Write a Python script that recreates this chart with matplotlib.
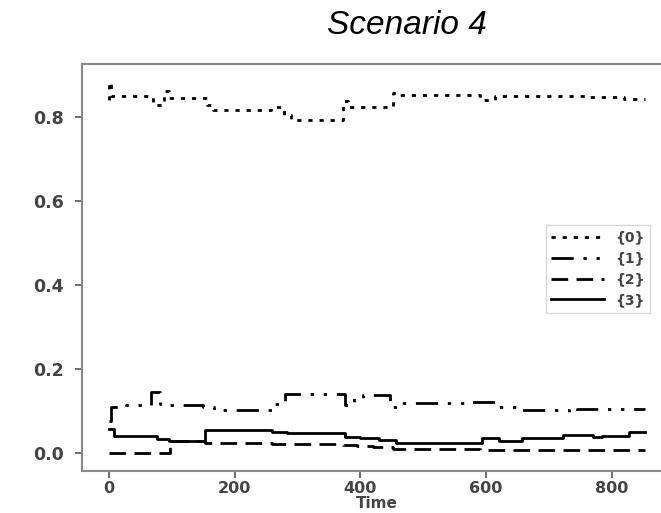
from matplotlib import pyplot as plt
import numpy as np

# step points (time, value)
t0 = [0, 1, 3, 70, 88, 96, 156, 165, 258, 278, 290, 372, 380, 452, 458, 590, 615, 630, 700, 760, 820, 853]
v0 = [0.840, 0.882, 0.849, 0.829, 0.861, 0.846, 0.828, 0.817, 0.823, 0.804, 0.792, 0.838, 0.824, 0.858, 0.853, 0.841, 0.849, 0.851, 0.850, 0.847, 0.842, 0.842]

t1 = [0, 3, 27, 67, 81, 95, 150, 168, 260, 280, 376, 390, 405, 448, 460, 566, 618, 652, 732, 745, 853]
v1 = [0.077, 0.110, 0.113, 0.145, 0.117, 0.115, 0.109, 0.102, 0.117, 0.141, 0.113, 0.131, 0.139, 0.109, 0.118, 0.122, 0.109, 0.103, 0.097, 0.104, 0.104]

t2 = [0, 97, 153, 260, 372, 395, 420, 452, 590, 853]
v2 = [0.000, 0.028, 0.024, 0.022, 0.019, 0.016, 0.013, 0.010, 0.008, 0.008]

t3 = [0, 9, 76, 95, 153, 260, 284, 376, 400, 430, 456, 593, 620, 657, 722, 770, 785, 828, 853]
v3 = [0.056, 0.040, 0.033, 0.028, 0.054, 0.050, 0.048, 0.038, 0.035, 0.030, 0.024, 0.035, 0.028, 0.036, 0.043, 0.039, 0.041, 0.051, 0.051]

labels = ["{0}", "{1}", "{2}", "{3}"]
styles = [(0, (1.5, 2.5)), (0, (8, 3.5, 1.2, 3.5, 1.2, 3.5)), (0, (6, 3)), "-"]

fig = plt.figure(figsize=(6.61, 5.13), dpi=100)
ax = fig.add_axes([0.124, 0.081, 0.8926, 0.7943])

for t, v, lab, ls in zip([t0, t1, t2, t3], [v0, v1, v2, v3], labels, styles):
    ax.plot(t, v, drawstyle="steps-post", color="black", lw=2, ls=ls, label=lab)

ax.set_xticks([0, 200, 400, 600, 800])
ax.set_yticks([0.0, 0.2, 0.4, 0.6, 0.8])
ax.yaxis.set_major_formatter(plt.FormatStrFormatter("%.1f"))

for s in ax.spines.values():
    s.set_color("#888888")
    s.set_linewidth(1.5)
ax.tick_params(colors="#555555", labelcolor="#444444", length=5, width=1.2,
               labelsize=12.5)
ax.tick_params(axis="y", pad=8)
ax.tick_params(axis="x", pad=2, labelsize=11.5)
for lbl in ax.get_xticklabels() + ax.get_yticklabels():
    lbl.set_fontweight("bold")

ax.set_xlabel("Time", fontsize=11, color="#444444", fontweight="bold", labelpad=0)

leg = ax.legend(loc="center right", bbox_to_anchor=(0.963, 0.497), borderaxespad=0,
                fontsize=10, handlelength=3.8, frameon=True, fancybox=False)
leg.get_frame().set_edgecolor("#cccccc")
for txt in leg.get_texts():
    txt.set_color("#444444")
    txt.set_fontweight("bold")

fig.text(0.616, 1 - 25 / 513, "Scenario 4", ha="center", va="center",
         fontsize=24, fontstyle="italic", family="Liberation Sans")

fig.savefig("out.png", dpi=100)
